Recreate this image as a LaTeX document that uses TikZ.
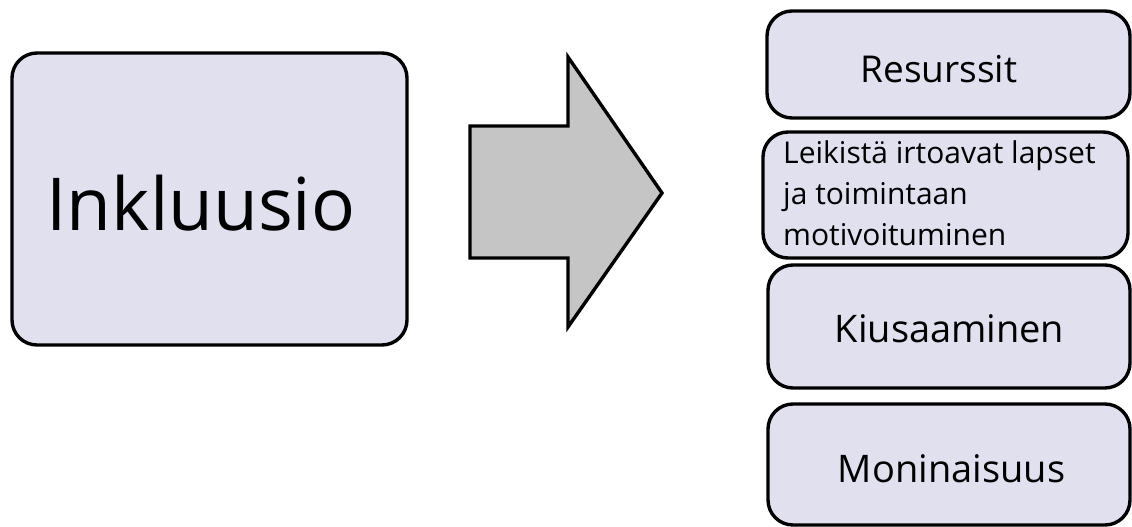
\documentclass[tikz,border=0pt]{standalone}
\usepackage{fontspec}
\setmainfont{Open Sans}
\definecolor{boxfill}{RGB}{224,224,238}
\definecolor{arrowfill}{RGB}{197,197,197}
\begin{document}
\begin{tikzpicture}[x=1pt,y=-1pt,
  roundbox/.style={draw=black,line width=3.4pt,fill=boxfill,rounded corners=25pt,inner sep=0pt},
  lbl/.style={anchor=base,inner sep=0pt,text=black}]
\useasboundingbox (0,0) rectangle (1132,527);
% left box
\node[roundbox,minimum width=395pt,minimum height=292pt] (inkl) at (209.5,199) {};
\node[lbl,font=\fontsize{73}{80}\selectfont] (inkltxt) at (201,230) {Inkluusio};
% arrow
\draw[line width=3.4pt,fill=arrowfill,line join=miter] (470,126) -- (568,126) -- (568,57) -- (662,193) -- (568,327) -- (568,258) -- (470,258) -- cycle;
% right boxes
\node[roundbox,minimum width=363pt,minimum height=107pt] (res) at (948.5,64.5) {};
\node[lbl,font=\fontsize{37}{40}\selectfont] (restxt) at (939,82) {Resurssit};
\node[roundbox,minimum width=365pt,minimum height=126pt] (leik) at (945.5,195) {};
\node[anchor=north west,inner sep=0pt,align=left,font=\fontsize{30}{41}\selectfont] (leiktxt) at (783,141) {Leikistä irtoavat lapset\\ja toimintaan\\motivoituminen};
\node[roundbox,minimum width=362pt,minimum height=123pt] (kius) at (949,326.5) {};
\node[lbl,font=\fontsize{38}{40}\selectfont] (kiustxt) at (949.5,342) {Kiusaaminen};
\node[roundbox,minimum width=362pt,minimum height=121pt] (monin) at (949,464.5) {};
\node[lbl,font=\fontsize{38}{40}\selectfont] (monintxt) at (951.5,482) {Moninaisuus};
\end{tikzpicture}
\end{document}
